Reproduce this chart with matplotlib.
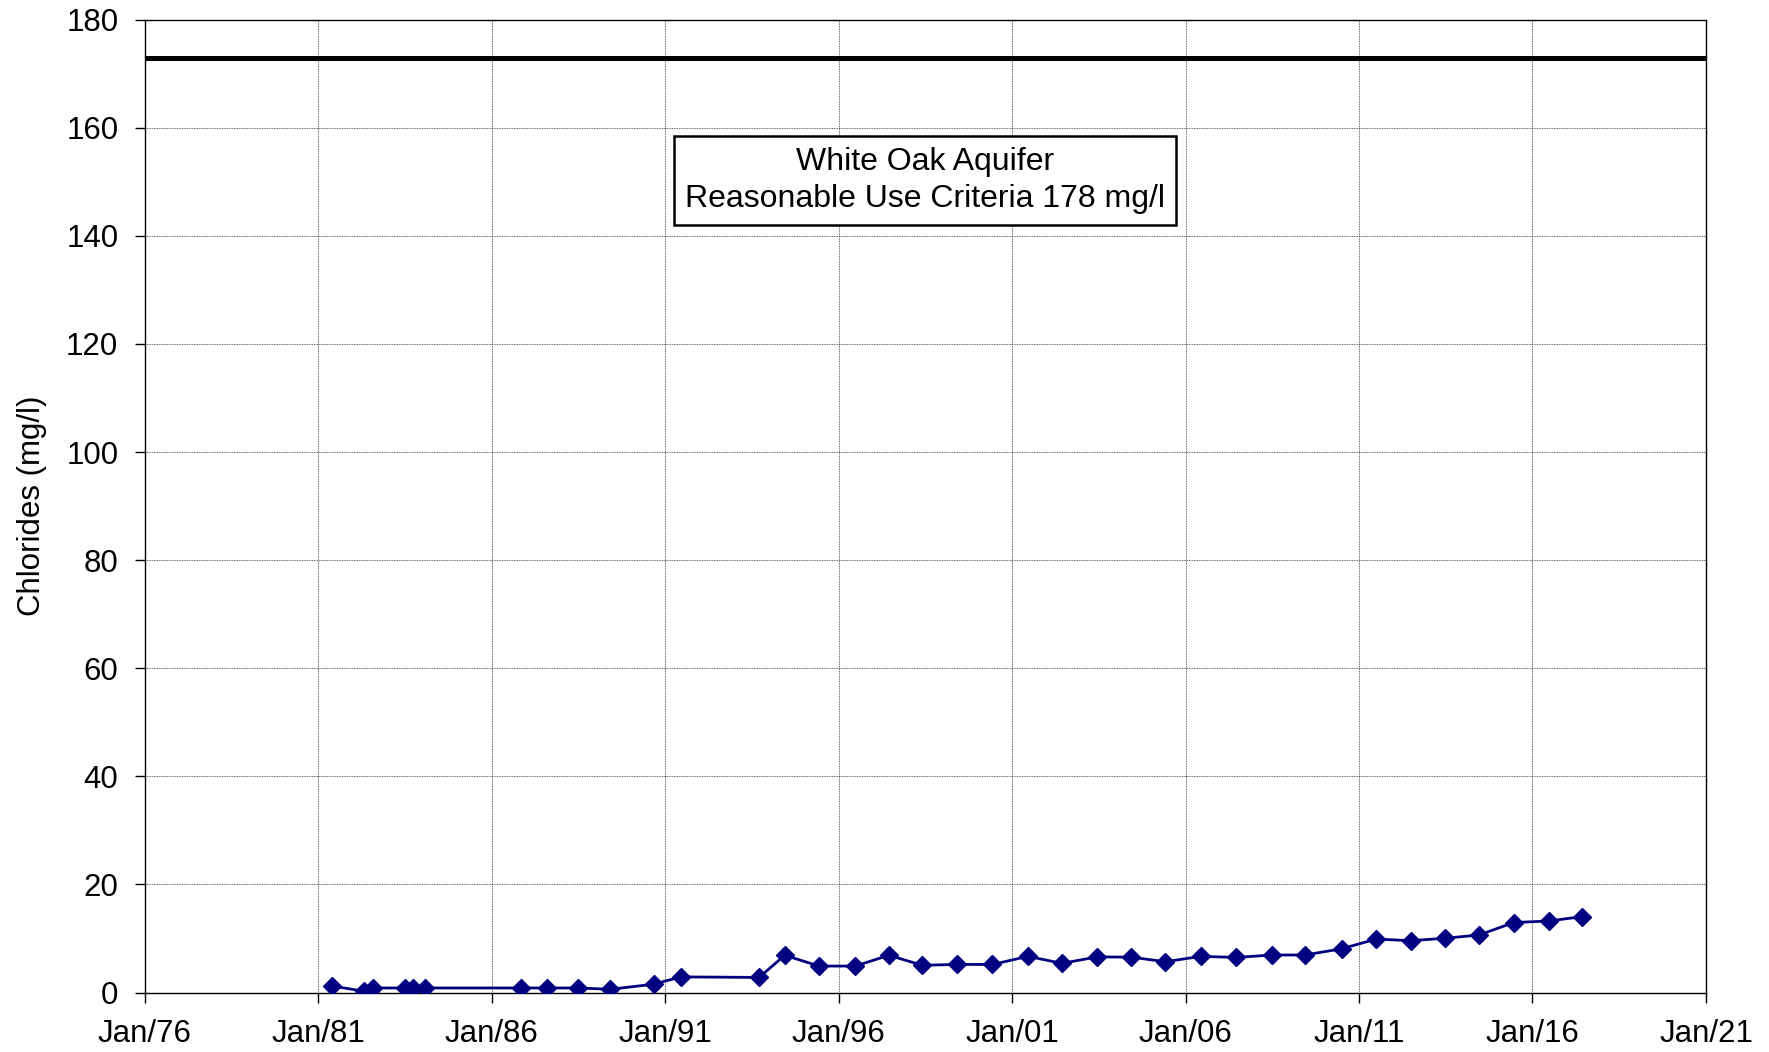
import matplotlib
matplotlib.use("Agg")
import matplotlib.pyplot as plt
import matplotlib.dates as mdates
import pandas as pd

plt.rcParams["font.family"] = ["Liberation Sans", "DejaVu Sans"]

# ── Data ───────────────────────────────────────────────────────────────────────
sample_dates = [
    "1981-05-30", "1982-04-27", "1982-08-04", "1983-07-01", "1983-09-27",
    "1984-01-30", "1986-11-01", "1987-08-04", "1988-07-01", "1989-05-30",
    "1990-09-05", "1991-06-13", "1993-09-16", "1994-06-13", "1995-06-10",
    "1996-06-24", "1997-06-13", "1998-05-30", "1999-06-03", "2000-06-07",
    "2001-06-17", "2002-06-10", "2003-06-13", "2004-06-10", "2005-06-03",
    "2006-06-10", "2007-06-20", "2008-06-24", "2009-06-10", "2010-07-01",
    "2011-07-01", "2012-06-27", "2013-06-27", "2014-06-17", "2015-06-17",
    "2016-06-24", "2017-06-07",
]
chlorides = [
    1.2, 0.25, 0.85, 0.85, 0.85, 0.85, 0.85, 0.85, 0.85, 0.6,
    1.55, 2.9, 2.8, 6.9, 4.9, 4.9, 6.9, 5.05, 5.2, 5.2,
    6.7, 5.4, 6.6, 6.55, 5.7, 6.7, 6.5, 6.95, 6.95, 8.1,
    9.9, 9.6, 10.05, 10.65, 12.95, 13.25, 14.05,
]
criteria_level = 173
criteria_label = "White Oak Aquifer\nReasonable Use Criteria 178 mg/l"

x_start, x_end = "1976-01-01", "2021-01-01"
tick_dates = pd.date_range(x_start, x_end, freq="5YS")

dates = pd.to_datetime(sample_dates)

# ── Figure ─────────────────────────────────────────────────────────────────────
fig = plt.figure(figsize=(17.69, 10.52), dpi=100)
ax = fig.add_axes([0.0818, 0.0565, 0.8826, 0.9248])

ax.axhline(criteria_level, color="black", linewidth=3.6, zorder=3)
ax.plot(dates, chlorides, color="#000080", linewidth=2.0,
        marker="D", markersize=9, zorder=4)

ax.set_xlim(pd.Timestamp(x_start), pd.Timestamp(x_end))
ax.set_ylim(0, 180)
ax.set_yticks(range(0, 181, 20))
ax.set_xticks(tick_dates)
ax.xaxis.set_major_formatter(mdates.DateFormatter("%b/%y"))

ax.grid(True, color="black", linestyle=(0, (1, 1)), linewidth=0.6, alpha=0.8)
ax.tick_params(axis="both", labelsize=22.5, length=7, width=1, direction="out", pad=12)
for s in ax.spines.values():
    s.set_linewidth(1.0)

ax.set_ylabel("Chlorides (mg/l)", fontsize=22.5)
ax.yaxis.set_label_coords(-0.0625, 0.5)

ax.text(pd.Timestamp("1998-07-01"), 150.3, criteria_label, ha="center", va="center",
        fontsize=23, linespacing=1.3, zorder=5,
        bbox=dict(boxstyle="square,pad=0.35", facecolor="white", edgecolor="black", linewidth=1.8))

fig.savefig("out.png", dpi=100)
